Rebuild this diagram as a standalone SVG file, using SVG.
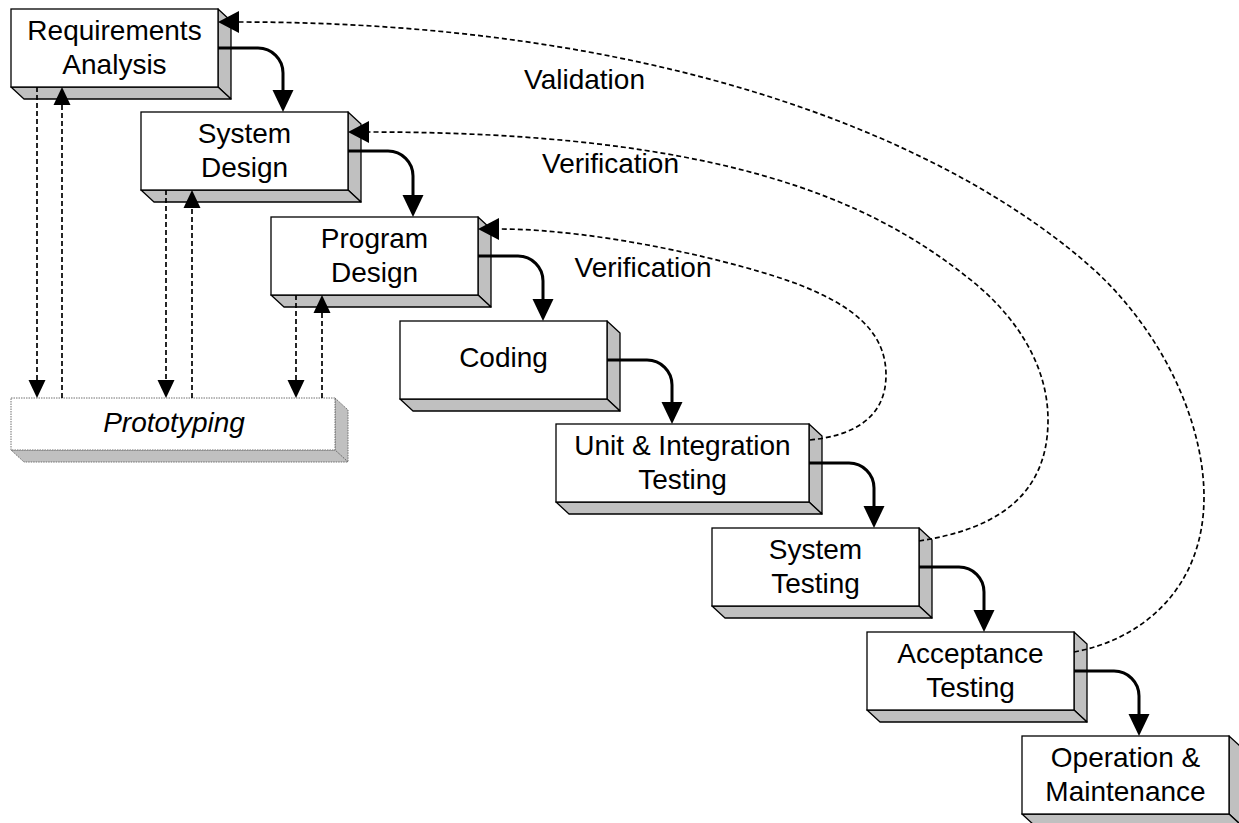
<svg xmlns="http://www.w3.org/2000/svg" width="1239" height="823" viewBox="0 0 1239 823">
<style>
.front{fill:#fff;stroke:#000;stroke-width:1.3}
.side{fill:#c0c0c0;stroke:#000;stroke-width:1.3;stroke-linejoin:round}
.pfront{fill:#fff;stroke:#707070;stroke-width:1;stroke-dasharray:1.5,1}
.pside{fill:#c0c0c0;stroke:#707070;stroke-width:1;stroke-dasharray:1.5,1}
.t{font-family:"Liberation Sans",Arial,sans-serif;font-size:28px;fill:#000;text-anchor:middle}
.solid{fill:none;stroke:#000;stroke-width:3}
.dash{fill:none;stroke:#000;stroke-width:1.7;stroke-dasharray:5,3}
.vdash{fill:none;stroke:#000;stroke-width:1.7;stroke-dasharray:5,3}
</style>
<defs>
<marker id="as" viewBox="-4 -12 27 24" refX="0" refY="0" markerWidth="27" markerHeight="24" orient="auto" markerUnits="userSpaceOnUse"><path d="M22,0 L0,-10.5 L0,10.5 Z" fill="#000"/></marker>
<marker id="ad" viewBox="-2 -12 24 24" refX="0" refY="0" markerWidth="24" markerHeight="24" orient="auto" markerUnits="userSpaceOnUse"><path d="M21,0 L0,-11 L0,11 Z" fill="#000"/></marker>
<marker id="av" viewBox="-2 -10 21 20" refX="0" refY="0" markerWidth="21" markerHeight="20" orient="auto" markerUnits="userSpaceOnUse"><path d="M18,0 L0,-8.5 L0,8.5 Z" fill="#000"/></marker>
</defs>

<g id="node-requirements">
<polygon class="side" points="218,9 231,21 231,99 218,87"/>
<polygon class="side" points="11,87 218,87 231,99 24,99"/>
<rect class="front" x="11" y="9" width="207" height="78"/>
<text class="t" x="114.5" y="40">Requirements</text>
<text class="t" x="114.5" y="74">Analysis</text>
</g>

<g id="node-system-design">
<polygon class="side" points="348,112 361,124 361,202 348,190"/>
<polygon class="side" points="141,190 348,190 361,202 154,202"/>
<rect class="front" x="141" y="112" width="207" height="78"/>
<text class="t" x="244.5" y="143">System</text>
<text class="t" x="244.5" y="177">Design</text>
</g>

<g id="node-program-design">
<polygon class="side" points="478,217 491,229 491,307 478,295"/>
<polygon class="side" points="271,295 478,295 491,307 284,307"/>
<rect class="front" x="271" y="217" width="207" height="78"/>
<text class="t" x="374.5" y="248">Program</text>
<text class="t" x="374.5" y="282">Design</text>
</g>

<g id="node-coding">
<polygon class="side" points="607,321 620,333 620,411 607,399"/>
<polygon class="side" points="400,399 607,399 620,411 413,411"/>
<rect class="front" x="400" y="321" width="207" height="78"/>
<text class="t" x="503.5" y="367">Coding</text>
</g>

<g id="node-unit-integration">
<polygon class="side" points="809,424 822,436 822,514 809,502"/>
<polygon class="side" points="556,502 809,502 822,514 569,514"/>
<rect class="front" x="556" y="424" width="253" height="78"/>
<text class="t" x="682.5" y="455">Unit &amp; Integration</text>
<text class="t" x="682.5" y="489">Testing</text>
</g>

<g id="node-system-testing">
<polygon class="side" points="919,528 932,540 932,618 919,606"/>
<polygon class="side" points="712,606 919,606 932,618 725,618"/>
<rect class="front" x="712" y="528" width="207" height="78"/>
<text class="t" x="815.5" y="559">System</text>
<text class="t" x="815.5" y="593">Testing</text>
</g>

<g id="node-acceptance-testing">
<polygon class="side" points="1074,632 1087,644 1087,722 1074,710"/>
<polygon class="side" points="867,710 1074,710 1087,722 880,722"/>
<rect class="front" x="867" y="632" width="207" height="78"/>
<text class="t" x="970.5" y="663">Acceptance</text>
<text class="t" x="970.5" y="697">Testing</text>
</g>

<g id="node-operation-maintenance">
<polygon class="side" points="1229,736 1242,748 1242,826 1229,814"/>
<polygon class="side" points="1022,814 1229,814 1242,826 1035,826"/>
<rect class="front" x="1022" y="736" width="207" height="78"/>
<text class="t" x="1125.5" y="767">Operation &amp;</text>
<text class="t" x="1125.5" y="801">Maintenance</text>
</g>

<g id="node-prototyping">
<polygon class="pside" points="335,398 348,410 348,462 335,450"/>
<polygon class="pside" points="11,450 335,450 348,462 24,462"/>
<rect class="pfront" x="11" y="398" width="324" height="52"/>
<text class="t" x="174" y="432" font-style="italic">Prototyping</text>
</g>

<g id="connectors">
<path class="solid" d="M218,48 H258 A25,25 0 0 1 283,73 V90" marker-end="url(#as)"/>
<path class="solid" d="M348,151 H388 A25,25 0 0 1 413,176 V195" marker-end="url(#as)"/>
<path class="solid" d="M478,256 H518 A25,25 0 0 1 543,281 V299" marker-end="url(#as)"/>
<path class="solid" d="M607,360 H647 A25,25 0 0 1 672,385 V402" marker-end="url(#as)"/>
<path class="solid" d="M809,463 H849 A25,25 0 0 1 874,488 V506" marker-end="url(#as)"/>
<path class="solid" d="M919,567 H959 A25,25 0 0 1 984,592 V610" marker-end="url(#as)"/>
<path class="solid" d="M1074,671 H1114 A25,25 0 0 1 1139,696 V714" marker-end="url(#as)"/>

<path class="vdash" d="M37,87 V380" marker-end="url(#av)"/>
<path class="vdash" d="M62,398 V105" marker-end="url(#av)"/>
<path class="vdash" d="M166,190 V380" marker-end="url(#av)"/>
<path class="vdash" d="M192,398 V208" marker-end="url(#av)"/>
<path class="vdash" d="M296,295 V380" marker-end="url(#av)"/>
<path class="vdash" d="M322,398 V313" marker-end="url(#av)"/>

<path class="dash" d="M1074,652 C1140,640 1204,590 1204,497 C1204,420 1160,325 1083,260 C933,133 650,22 239,22" marker-end="url(#ad)"/>
<path class="dash" d="M919,541 C990,530 1048,500 1048,420 C1048,360 1010,310 967,277 C870,200 720,132 369,132" marker-end="url(#ad)"/>
<path class="dash" d="M810,440 C850,436 886,420 886,375 C886,330 850,305 800,285 C740,262 600,229 499,229" marker-end="url(#ad)"/>

<text class="t" x="584.5" y="89">Validation</text>
<text class="t" x="610.5" y="173">Verification</text>
<text class="t" x="643" y="277">Verification</text>
</g>
</svg>
